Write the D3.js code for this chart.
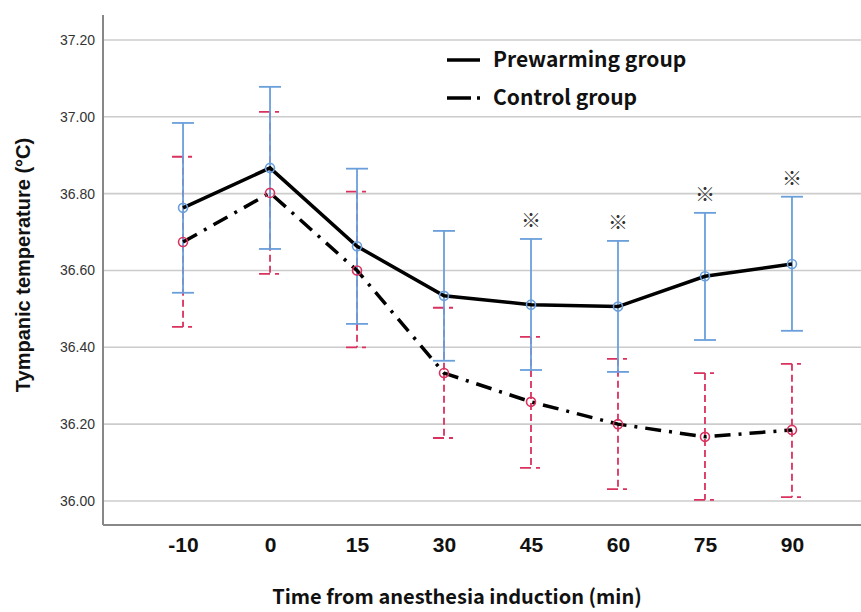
<!DOCTYPE html>
<html>
<head>
<meta charset="utf-8">
<script src="https://cdn.jsdelivr.net/npm/d3@7"></script>
<style>
  body { margin: 0; background: #fff; }
  svg { display: block; }
</style>
</head>
<body>
<div id="chart"></div>
<script>
// time points (min)
var times = ["-10", "0", "15", "30", "45", "60", "75", "90"];

// prewarming group: mean and error bar limits
var preMean = [36.763, 36.867, 36.663, 36.534, 36.511, 36.506, 36.585, 36.617];
var preHigh = [36.984, 37.078, 36.865, 36.703, 36.682, 36.677, 36.750, 36.792];
var preLow  = [36.542, 36.656, 36.461, 36.365, 36.341, 36.336, 36.419, 36.443];

// control group
var conMean = [36.674, 36.802, 36.600, 36.333, 36.258, 36.200, 36.167, 36.185];
var conHigh = [36.896, 37.013, 36.805, 36.503, 36.427, 36.370, 36.333, 36.357];
var conLow  = [36.453, 36.591, 36.400, 36.164, 36.086, 36.031, 36.003, 36.010];

// significant difference marks
var sigTimes = ["45", "60", "75", "90"];

var yTicks = [36.0, 36.2, 36.4, 36.6, 36.8, 37.0, 37.2];

var width = 861, height = 612;
var margin = {top: 15, right: -11, bottom: 87, left: 103};
var w = width - margin.left - margin.right;
var h = height - margin.top - margin.bottom;

var blue = "#6a9fdb", red = "#d9325e";

var svg = d3.select("#chart").append("svg")
  .attr("width", width)
  .attr("height", height);

var g = svg.append("g")
  .attr("transform", "translate(" + margin.left + "," + margin.top + ")");

var x = d3.scalePoint()
  .domain(times)
  .range([0, w])
  .padding(0.92);

var y = d3.scaleLinear()
  .domain([35.9375, 37.265])
  .range([h, 0]);

// grid lines
g.append("g")
  .selectAll("line")
  .data(yTicks)
  .enter().append("line")
  .attr("x1", 0)
  .attr("x2", w)
  .attr("y1", function (d) { return y(d); })
  .attr("y2", function (d) { return y(d); })
  .attr("stroke", "#cccccc")
  .attr("stroke-width", 1.6);

// y axis
var yAxis = d3.axisLeft(y)
  .tickValues(yTicks)
  .tickSize(0)
  .tickPadding(8)
  .tickFormat(d3.format(".2f"));

var ya = g.append("g").call(yAxis);
ya.select(".domain").remove();
ya.selectAll("text")
  .style("font-family", "'Liberation Sans', Arial, sans-serif")
  .style("font-size", "14px")
  .attr("fill", "#333");

// x axis
var xAxis = d3.axisBottom(x).tickSize(0).tickPadding(12);
var xa = g.append("g")
  .attr("transform", "translate(0," + h + ")")
  .call(xAxis);
xa.select(".domain").remove();
xa.selectAll("text")
  .style("font-family", "'Liberation Sans', Arial, sans-serif")
  .style("font-size", "21px")
  .style("font-weight", "bold")
  .attr("fill", "#111");

// axis lines
g.append("line")
  .attr("x1", 0).attr("x2", 0)
  .attr("y1", 0).attr("y2", h)
  .attr("stroke", "#888").attr("stroke-width", 2);
g.append("line")
  .attr("x1", 0).attr("x2", w)
  .attr("y1", h).attr("y2", h)
  .attr("stroke", "#888").attr("stroke-width", 2);

var capW = 11;

var conData = times.map(function (t, i) {
  return {t: t, m: conMean[i], hi: conHigh[i], lo: conLow[i]};
});
var preData = times.map(function (t, i) {
  return {t: t, m: preMean[i], hi: preHigh[i], lo: preLow[i]};
});

// control error bars (dashed red)
var cb = g.append("g").selectAll("g").data(conData).enter().append("g");
cb.append("line")
  .attr("x1", function (d) { return x(d.t); })
  .attr("x2", function (d) { return x(d.t); })
  .attr("y1", function (d) { return y(d.hi); })
  .attr("y2", function (d) { return y(d.lo); })
  .attr("stroke", red).attr("stroke-width", 1.8)
  .attr("stroke-dasharray", "7,4");
cb.append("line")
  .attr("x1", function (d) { return x(d.t) - capW; })
  .attr("x2", function (d) { return x(d.t) + capW; })
  .attr("y1", function (d) { return y(d.hi); })
  .attr("y2", function (d) { return y(d.hi); })
  .attr("stroke", red).attr("stroke-width", 1.8)
  .attr("stroke-dasharray", "11,5,4,10");
cb.append("line")
  .attr("x1", function (d) { return x(d.t) - capW; })
  .attr("x2", function (d) { return x(d.t) + capW; })
  .attr("y1", function (d) { return y(d.lo); })
  .attr("y2", function (d) { return y(d.lo); })
  .attr("stroke", red).attr("stroke-width", 1.8)
  .attr("stroke-dasharray", "11,5,4,10");

// prewarming error bars (solid blue)
var pb = g.append("g").selectAll("g").data(preData).enter().append("g");
pb.append("line")
  .attr("x1", function (d) { return x(d.t); })
  .attr("x2", function (d) { return x(d.t); })
  .attr("y1", function (d) { return y(d.hi); })
  .attr("y2", function (d) { return y(d.lo); })
  .attr("stroke", blue).attr("stroke-width", 1.8);
pb.append("line")
  .attr("x1", function (d) { return x(d.t) - capW; })
  .attr("x2", function (d) { return x(d.t) + capW; })
  .attr("y1", function (d) { return y(d.hi); })
  .attr("y2", function (d) { return y(d.hi); })
  .attr("stroke", blue).attr("stroke-width", 1.8);
pb.append("line")
  .attr("x1", function (d) { return x(d.t) - capW; })
  .attr("x2", function (d) { return x(d.t) + capW; })
  .attr("y1", function (d) { return y(d.lo); })
  .attr("y2", function (d) { return y(d.lo); })
  .attr("stroke", blue).attr("stroke-width", 1.8);

// mean lines
var line = d3.line()
  .x(function (d) { return x(d.t); })
  .y(function (d) { return y(d.m); });

g.append("path")
  .datum(conData)
  .attr("d", line)
  .attr("fill", "none")
  .attr("stroke", "#000")
  .attr("stroke-width", 3.5)
  .attr("stroke-dasharray", "16,8,3,8");

g.append("path")
  .datum(preData)
  .attr("d", line)
  .attr("fill", "none")
  .attr("stroke", "#000")
  .attr("stroke-width", 3.5);

// markers
g.append("g").selectAll("circle").data(conData).enter().append("circle")
  .attr("cx", function (d) { return x(d.t); })
  .attr("cy", function (d) { return y(d.m); })
  .attr("r", 4.5)
  .attr("fill", "none")
  .attr("stroke", red).attr("stroke-width", 1.6);

g.append("g").selectAll("circle").data(preData).enter().append("circle")
  .attr("cx", function (d) { return x(d.t); })
  .attr("cy", function (d) { return y(d.m); })
  .attr("r", 4.5)
  .attr("fill", "none")
  .attr("stroke", blue).attr("stroke-width", 1.6);

// significance marks above error bars
g.append("g").selectAll("text").data(preData.filter(function (d) {
    return sigTimes.indexOf(d.t) >= 0;
  })).enter().append("text")
  .attr("x", function (d) { return x(d.t); })
  .attr("y", function (d) { return y(d.hi) - 11; })
  .attr("text-anchor", "middle")
  .style("font-family", "'Noto Sans CJK JP', sans-serif")
  .style("font-size", "20px")
  .attr("fill", "#333")
  .text("※");

// legend
var legend = svg.append("g");
var legItems = [
  {label: "Prewarming group", dash: null, y: 60},
  {label: "Control group", dash: "24,6,3,20", y: 98}
];
legItems.forEach(function (l) {
  legend.append("line")
    .attr("x1", 447).attr("x2", 480)
    .attr("y1", l.y).attr("y2", l.y)
    .attr("stroke", "#000").attr("stroke-width", 3.5)
    .attr("stroke-dasharray", l.dash);
  legend.append("text")
    .attr("x", 493)
    .attr("y", l.y + 7)
    .style("font-family", "'Noto Sans CJK JP', sans-serif")
    .style("font-size", "21px")
    .style("font-weight", "bold")
    .attr("fill", "#111")
    .text(l.label);
});

// axis titles
svg.append("text")
  .attr("transform", "translate(30,265) rotate(-90)")
  .attr("text-anchor", "middle")
  .style("font-family", "'Liberation Sans', Arial, sans-serif")
  .style("font-size", "20px")
  .style("font-weight", "bold")
  .attr("fill", "#111")
  .text("Tympanic temperature (°C)");

svg.append("text")
  .attr("x", 457)
  .attr("y", 604)
  .attr("text-anchor", "middle")
  .style("font-family", "'Noto Sans CJK JP', sans-serif")
  .style("font-size", "20px")
  .style("font-weight", "bold")
  .attr("fill", "#111")
  .text("Time from anesthesia induction (min)");
</script>
</body>
</html>
